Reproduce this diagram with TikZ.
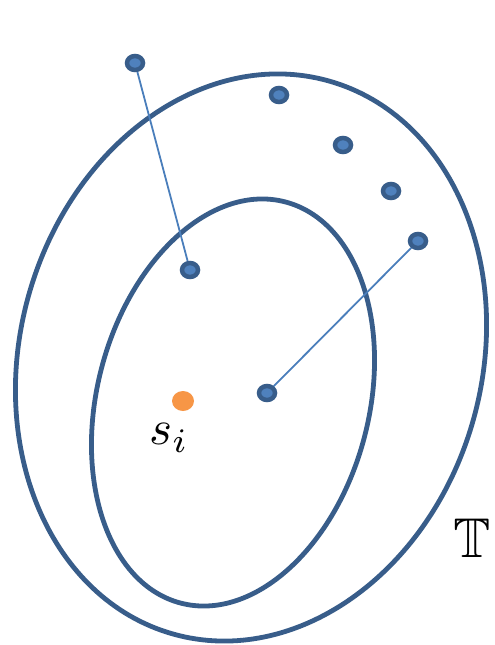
\documentclass[tikz,border=0pt]{standalone}
\usepackage{amssymb}
\usetikzlibrary{shapes.geometric}
\definecolor{ringblue}{HTML}{385D8A}
\definecolor{dotfill}{HTML}{4F81BD}
\definecolor{linkblue}{HTML}{4A7EBB}
\definecolor{orangedot}{HTML}{F79646}
\tikzset{
  ring/.style={draw=ringblue, line width=4.8pt},
  pt/.style={ellipse, draw=ringblue, fill=dotfill, line width=4.5pt, minimum width=16pt, minimum height=14pt, inner sep=0pt},
  link/.style={draw=linkblue, line width=1.8pt},
  odot/.style={ellipse, fill=orangedot, minimum width=22pt, minimum height=20pt, inner sep=0pt}
}
\begin{document}
\begin{tikzpicture}[x=1pt,y=-1pt]
\useasboundingbox (0,0) rectangle (495,645);
\draw[ring, rotate around={-15.75:(251,357.5)}] (251,357.5) ellipse [x radius=230.9, y radius=287.3];
\draw[ring, rotate around={-14.6:(233,402.5)}] (233,402.5) ellipse [x radius=135.9, y radius=207.3];
\node[pt] (p1) at (135,63) {};
\node[pt] (p2) at (279,95) {};
\node[pt] (p3) at (343,145) {};
\node[pt] (p4) at (391,191) {};
\node[pt] (p5) at (418,241) {};
\node[pt] (p6) at (190,270) {};
\node[pt] (p7) at (267,393) {};
\node[odot] (si) at (183,401) {};
\node[scale=4.9, inner sep=0pt] (silab) at (169,438) {$s_i$};
\node[inner sep=0pt] (tlab) at (472,538) {\fontsize{56}{60}\selectfont $\mathbb{T}$};
\draw[link] (p1) -- (p6);
\draw[link] (p5) -- (p7);
\end{tikzpicture}
\end{document}
